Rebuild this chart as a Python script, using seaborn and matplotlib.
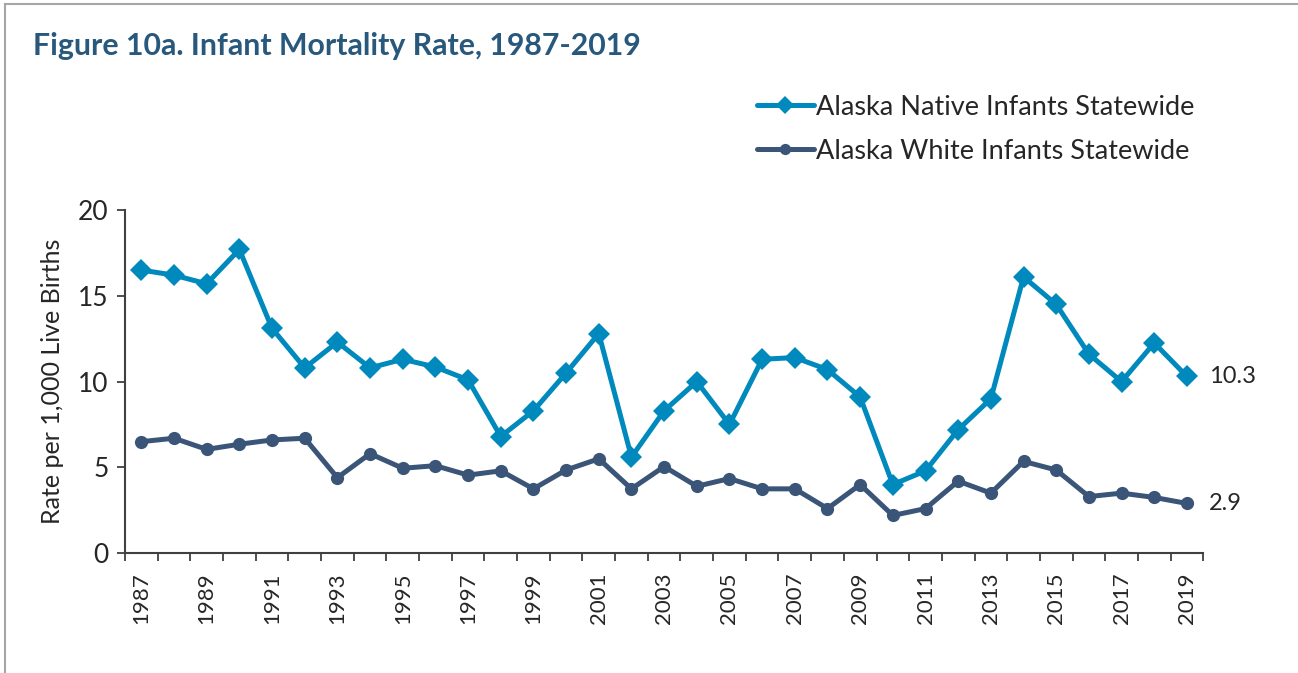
import pandas as pd
import seaborn as sns
import matplotlib.pyplot as plt
from matplotlib.patches import Rectangle
from matplotlib.ticker import MultipleLocator

years = list(range(1987, 2020))
native_rates = [16.5, 16.2, 15.7, 17.7, 13.1, 10.8, 12.3, 10.8, 11.3, 10.85, 10.1,
                6.8, 8.3, 10.5, 12.8, 5.6, 8.3, 10.0, 7.5, 11.3, 11.4, 10.7, 9.1,
                4.0, 4.8, 7.2, 9.0, 16.1, 14.5, 11.6, 10.0, 12.25, 10.3]
white_rates = [6.5, 6.7, 6.05, 6.35, 6.6, 6.7, 4.4, 5.8, 4.95, 5.1, 4.55,
               4.8, 3.75, 4.85, 5.5, 3.75, 5.05, 3.9, 4.35, 3.75, 3.75, 2.6, 4.0,
               2.2, 2.6, 4.2, 3.5, 5.35, 4.85, 3.3, 3.5, 3.25, 2.9]
series_names = ["Alaska Native Infants Statewide", "Alaska White Infants Statewide"]
series_colors = ["#0089bd", "#3a5578"]

native_df = pd.DataFrame({"Year": years, "Rate": native_rates})
white_df = pd.DataFrame({"Year": years, "Rate": white_rates})

sns.set_style("white")
plt.rcParams["font.family"] = ["Lato", "DejaVu Sans"]

fig = plt.figure(figsize=(12.98, 6.73), dpi=100)
ax = fig.add_axes([0.0963, 0.178, 0.8307, 0.51])

# light grey frame around the figure (runs off the right / bottom edge)
fig.patches.append(Rectangle((5 / 1298, -0.1), 1.2, 1 - 4 / 673 + 0.1,
                             transform=fig.transFigure, fill=False,
                             edgecolor="#a6a6a6", linewidth=1.5))

sns.lineplot(data=native_df, x="Year", y="Rate", ax=ax, color=series_colors[0],
             marker="D", markersize=11, markeredgewidth=0, linewidth=3.6,
             label=series_names[0])
sns.lineplot(data=white_df, x="Year", y="Rate", ax=ax, color=series_colors[1],
             marker="o", markersize=9.5, markeredgewidth=0, linewidth=3.6,
             label=series_names[1])

ax.set_xlim(1986.5, 2019.5)
ax.set_ylim(0, 20)
ax.set_yticks([0, 5, 10, 15, 20])
ax.set_xticks(years[::2])
ax.set_xticklabels([str(y) for y in years[::2]], rotation=90)
ax.xaxis.set_minor_locator(MultipleLocator(1, offset=0.5))
ax.tick_params(axis="x", which="major", length=0, pad=14, labelsize=16)
ax.tick_params(axis="x", which="minor", length=6, width=1.3, color="#404040",
               direction="out", bottom=True)
ax.tick_params(axis="y", length=6, width=1.3, color="#404040", direction="out",
               left=True, labelsize=19, pad=6)
sns.despine(ax=ax)
for side in ["left", "bottom"]:
    ax.spines[side].set_color("#404040")
    ax.spines[side].set_linewidth(1.5)

ax.set_xlabel("")
ax.set_ylabel("Rate per 1,000 Live Births", fontsize=18, labelpad=10)

ax.annotate(f"{native_rates[-1]:.1f}", xy=(years[-1], native_rates[-1]),
            xytext=(16, 0), textcoords="offset points", va="center", fontsize=17)
ax.annotate(f"{white_rates[-1]:.1f}", xy=(years[-1], white_rates[-1]),
            xytext=(16, 0), textcoords="offset points", va="center", fontsize=17)

handles, labels = ax.get_legend_handles_labels()
ax.get_legend().remove()
fig.legend(handles, labels, loc="upper left", bbox_to_anchor=(746 / 1298, 1 - 84 / 673),
           frameon=False, fontsize=19.5, handlelength=2.1, handletextpad=0.1,
           labelspacing=0.7, markerscale=0.85, borderaxespad=0)

fig.text(33 / 1298, 1 - 46 / 673, "Figure 10a. Infant Mortality Rate, 1987-2019",
         fontsize=21.8, fontweight="bold", color="#28587b", va="center")

fig.savefig("out.png", dpi=100)
